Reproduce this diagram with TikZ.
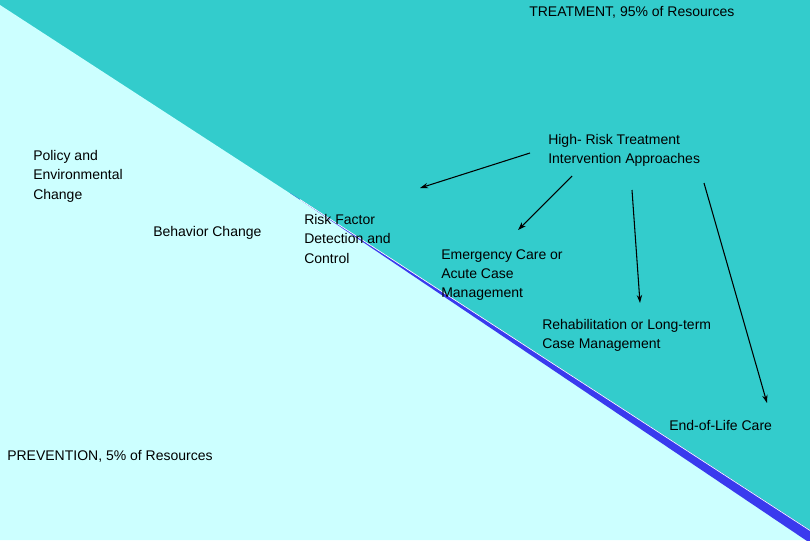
\documentclass[tikz,border=0pt]{standalone}
\usepackage{fontspec}
\setmainfont{Liberation Sans}
\usetikzlibrary{arrows.meta}
\definecolor{teal1}{HTML}{33CCCC}
\definecolor{light1}{HTML}{CCFFFF}
\definecolor{band}{HTML}{3A3AEE}
\begin{document}
\begin{tikzpicture}[x=0.75pt,y=-0.75pt,
  lbl/.style={anchor=north west,inner sep=0pt,align=left,font=\fontsize{10.5}{14.6}\selectfont},
  arr/.style={-{Stealth[length=6pt,width=4pt]},line width=0.8pt}]
\useasboundingbox (0,0) rectangle (810,540);
\fill[teal1] (0,0) rectangle (810,540);
\fill[light1] (0,5) -- (810,531) -- (810,540) -- (0,540) -- cycle;
\fill[band] (290,193) -- (810,530) -- (810,543) -- cycle;
\draw[white,line width=0.5pt] (300,199.5) -- (810,530.5);
\node[lbl] (treat) at (529,6) {TREATMENT, 95\% of Resources};
\node[lbl] (high) at (548,134) {High- Risk Treatment\\Intervention Approaches};
\node[lbl] (policy) at (33,150) {Policy and\\Environmental\\Change};
\node[lbl] (beh) at (153,226) {Behavior Change};
\node[lbl] (risk) at (304,214) {Risk Factor\\Detection and\\Control};
\node[lbl] (emerg) at (441,249) {Emergency Care or\\Acute Case\\Management};
\node[lbl] (rehab) at (542,319) {Rehabilitation or Long-term\\Case Management};
\node[lbl] (eol) at (669,420) {End-of-Life Care};
\node[lbl] (prev) at (7,450) {PREVENTION, 5\% of Resources};
\coordinate (a1s) at (530,153); \coordinate (a1e) at (420,188);
\coordinate (a2s) at (572,176); \coordinate (a2e) at (518,230);
\coordinate (a3s) at (632,190); \coordinate (a3e) at (640,303);
\coordinate (a4s) at (704,183); \coordinate (a4e) at (767,403);
\draw[arr] (a1s) -- (a1e);
\draw[arr] (a2s) -- (a2e);
\draw[arr] (a3s) -- (a3e);
\draw[arr] (a4s) -- (a4e);
\end{tikzpicture}
\end{document}
